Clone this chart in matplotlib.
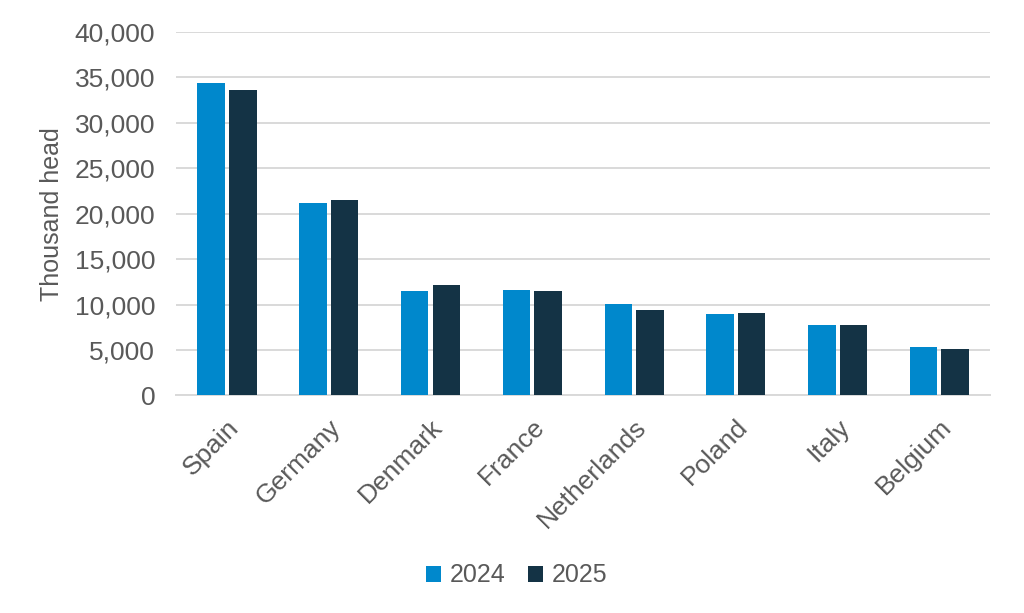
import numpy as np
import matplotlib.pyplot as plt
from matplotlib.ticker import FuncFormatter

# values (thousand head)
countries = ["Spain", "Germany", "Denmark", "France", "Netherlands",
             "Poland", "Italy", "Belgium"]
head_2024 = [34400, 21200, 11500, 11600, 10100, 9000, 7800, 5300]
head_2025 = [33600, 21450, 12200, 11500, 9400, 9100, 7760, 5150]
years = ["2024", "2025"]

C_2024 = "#0088cc"
C_2025 = "#143345"
TXT = "#595959"
GRID = "#d9d9d9"

plt.rcParams["font.family"] = ["Liberation Sans", "DejaVu Sans"]

fig = plt.figure(figsize=(10.24, 6.13), dpi=100)
ax = fig.add_axes([0.172, 0.355, 0.795, 0.593])

x = np.arange(len(countries))
w = 0.27
gap = 0.04
ax.bar(x - (w + gap) / 2, head_2024, width=w, color=C_2024, label=years[0], zorder=3)
ax.bar(x + (w + gap) / 2, head_2025, width=w, color=C_2025, label=years[1], zorder=3)

ax.set_xlim(-0.5, len(countries) - 0.5)
ax.set_ylim(0, 40000)
ax.set_yticks(np.arange(0, 40001, 5000))
ax.yaxis.set_major_formatter(FuncFormatter(lambda v, p: f"{v:,.0f}"))
ax.grid(axis="y", color=GRID, linewidth=1.4, zorder=0)

for s in ["top", "right", "left"]:
    ax.spines[s].set_visible(False)
ax.spines["bottom"].set_color(GRID)
ax.spines["bottom"].set_linewidth(1.4)

ax.tick_params(axis="y", length=0, labelsize=19, labelcolor=TXT, pad=15)
ax.tick_params(axis="x", length=0, labelsize=19, labelcolor=TXT, pad=14)
ax.set_xticks(x)
ax.set_xticklabels(countries, rotation=45, ha="right", rotation_mode="anchor")

ax.set_ylabel("Thousand head", fontsize=18, color=TXT, labelpad=8)

fig.legend(loc="lower center", bbox_to_anchor=(0.505, 0.005), ncol=2, frameon=False,
           fontsize=18, labelcolor=TXT, handlelength=0.6, handleheight=0.6,
           handletextpad=0.35, columnspacing=0.9)

fig.savefig("out.png", dpi=100)
